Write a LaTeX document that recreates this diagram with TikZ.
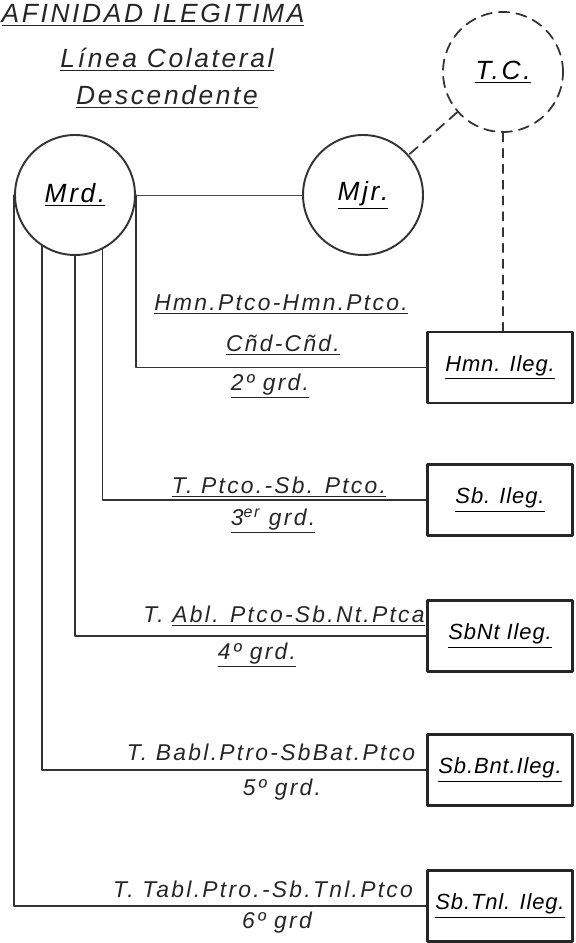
\documentclass[tikz,border=0pt]{standalone}
\usepackage{fontspec}
\newfontfamily\hand[LetterSpace=10]{Liberation Sans}
\newfontfamily\handbox[LetterSpace=4]{Liberation Sans}
\begin{document}
\begin{tikzpicture}[x=0.02cm, y=-0.02cm, line cap=round, line join=round,
  person/.style={circle, draw=black!80, line width=1.1pt, minimum size=2.4cm, inner sep=0pt,
    font=\hand\itshape\fontsize{15}{17}\selectfont},
  kin/.style={draw=black!85, line width=1.6pt, minimum width=2.9cm, minimum height=1.42cm,
    inner sep=0pt, font=\handbox\itshape\fontsize{12.5}{15}\selectfont},
  heading/.style={inner sep=0pt, font=\hand\itshape\fontsize{15}{18}\selectfont, text=black!85},
  grado/.style={inner sep=0pt, font=\hand\itshape\fontsize{13}{15}\selectfont, text=black!85},
  rama/.style={line width=0.8pt, draw=black!80},
  tenue/.style={dash pattern=on 6pt off 4pt, line width=1pt, draw=black!80}]
  \useasboundingbox (0,0) rectangle (575,943);

  % Headings
  \node[heading] (titulo) at (153,15) {\underline{AFINIDAD ILEGITIMA}};
  \node[heading] (linea) at (167,60) {\underline{Línea Colateral}};
  \node[heading] (desc) at (167,97) {\underline{Descendente}};

  % Persons
  \node[person] (mrd) at (75,195) {\underline{Mrd.}};
  \node[person] (mjr) at (363,195) {\underline{Mjr.}};
  \node[person, tenue] (tc) at (503,72) {\underline{T.C.}};

  % Illegitimate relatives
  \node[kin] (hmn) at (500,367.5) {\underline{Hmn. Ileg.}};
  \node[kin] (sb) at (500,500) {\underline{Sb. Ileg.}};
  \node[kin] (sbnt) at (500,636) {\underline{SbNt Ileg.}};
  \node[kin] (sbbnt) at (500,770) {\underline{Sb.Bnt.Ileg.}};
  \node[kin] (sbtnl) at (500,906) {\underline{Sb.Tnl. Ileg.}};

  % Marriage and collateral line
  \draw[line width=0.5pt, draw=black!70] (mrd) -- (mjr);
  \draw[tenue] (tc) -- (mjr);
  \draw[tenue, line width=0.7pt, dash pattern=on 5pt off 4pt] (tc.south) -- (tc.south |- hmn.north);

  % Branches from Mrd.
  \draw[rama] (mrd.east) |- (hmn.west);
  \draw[rama] (mrd.297.8) |- (sb.west);
  \draw[rama] (mrd.south) |- (sbnt.west);
  \draw[rama] (mrd.237.8) |- (sbbnt.west);
  \draw[rama] (mrd.west) |- (sbtnl.west);

  % Degrees
  \node[grado] (g2a) at (281,305) {\underline{Hmn.Ptco-Hmn.Ptco.}};
  \node[grado] (g2b) at (283,345) {\underline{Cñd-Cñd.}};
  \node[grado] (g2c) at (270,386) {\underline{2º grd.}};

  \node[grado] (g3a) at (279,487) {\underline{T. Ptco.-Sb. Ptco.}};
  \node[grado] (g3b) at (273,521) {\underline{3\textsuperscript{er} grd.}};

  \node[grado] (g4a) at (284,616) {T. \underline{Abl. Ptco-Sb.Nt.Ptca}};
  \node[grado] (g4b) at (257,655) {\underline{4º grd.}};

  \node[grado] (g5a) at (271,752) {T. Babl.Ptro-SbBat.Ptco};
  \node[grado] (g5b) at (282,790) {5º grd.};

  \node[grado] (g6a) at (263,889) {T. Tabl.Ptro.-Sb.Tnl.Ptco};
  \node[grado] (g6b) at (277,923) {6º grd};
\end{tikzpicture}
\end{document}
